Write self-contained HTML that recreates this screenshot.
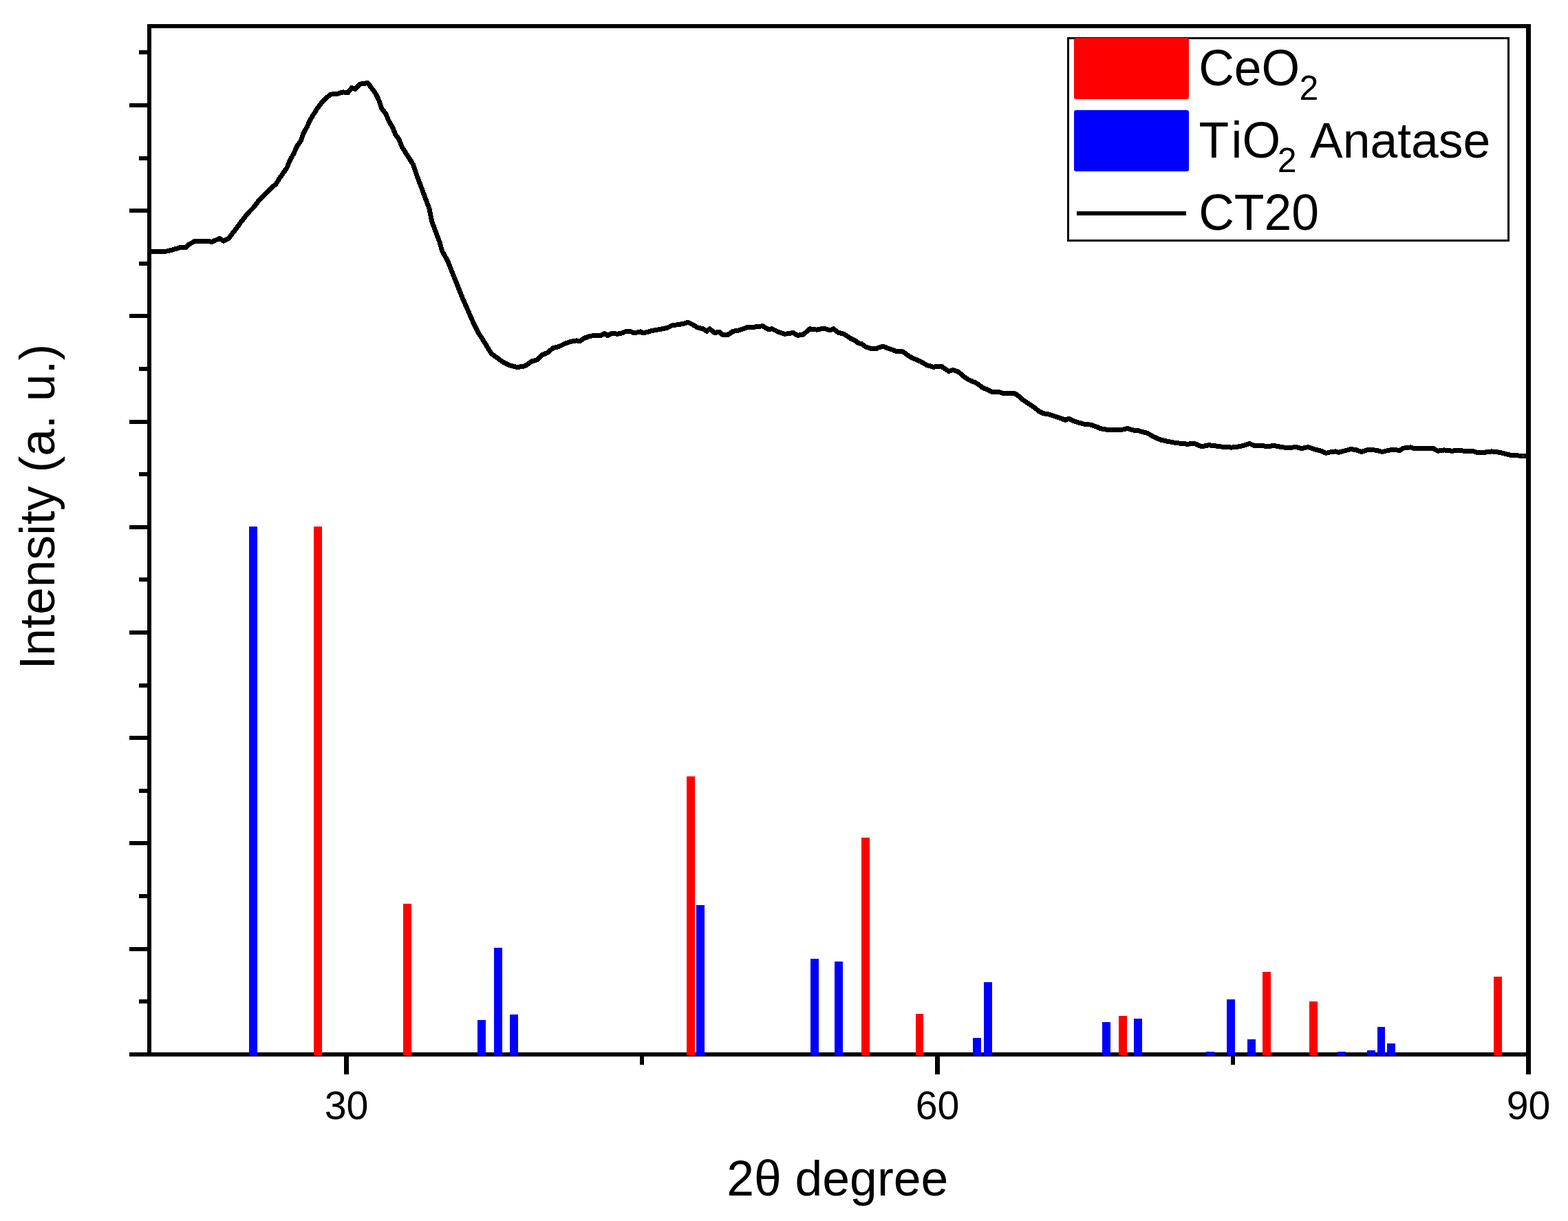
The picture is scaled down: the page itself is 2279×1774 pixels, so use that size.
<!DOCTYPE html><html><head><meta charset="utf-8"><style>
html,body{margin:0;padding:0;background:#fff;}
svg{display:block;}
text{font-family:"Liberation Sans",Arial,sans-serif;fill:#000;}
</style></head><body>
<svg width="2279" height="1774" viewBox="0 0 2279 1774">
<rect x="0" y="0" width="2279" height="1774" fill="#fff"/>
<path d="M217.0,366.0 L220.0,366.0 L237.9,365.8 L245.2,364.4 L253.5,362.1 L262.6,359.4 L270.0,359.8 L274.5,355.2 L282.8,350.7 L292.8,350.7 L302.0,350.2 L307.5,351.6 L313.9,348.8 L319.4,346.5 L324.9,350.2 L332.2,346.5 L335.9,341.5 L343.2,332.3 L350.5,322.3 L359.7,310.4 L368.8,301.2 L376.2,291.1 L384.4,282.9 L393.6,273.7 L401.1,267.3 L406.4,258.8 L411.6,251.4 L416.9,244.0 L421.2,233.4 L426.5,223.9 L431.8,212.2 L437.1,204.8 L441.3,193.2 L446.6,183.6 L450.8,174.1 L456.1,165.6 L461.4,157.2 L467.8,148.7 L474.1,142.4 L480.5,137.1 L490.0,136.5 L498.5,133.9 L505.9,134.4 L511.2,127.5 L516.5,129.6 L522.8,122.2 L530.2,121.2 L534.5,120.6 L537.6,124.4 L542.9,131.8 L547.2,138.1 L551.4,147.6 L554.6,157.2 L560.9,165.6 L565.2,176.2 L570.5,184.7 L574.7,195.3 L580.0,202.7 L584.2,213.3 L589.5,221.8 L593.8,228.5 L600.4,238.8 L606.9,257.7 L612.6,272.7 L618.2,287.8 L623.9,302.9 L627.7,321.7 L633.3,336.8 L639.0,351.8 L642.7,365.0 L650.3,378.2 L657.8,397.0 L665.3,415.9 L672.9,434.7 L680.4,451.6 L687.9,468.6 L695.5,483.7 L704.9,498.7 L714.3,513.8 L721.8,519.4 L731.2,526.0 L740.7,530.7 L752.0,533.6 L763.3,531.7 L772.7,525.1 L781.4,522.4 L788.2,515.5 L796.5,512.1 L803.4,505.9 L813.0,503.2 L821.2,499.1 L829.5,496.3 L837.7,494.9 L843.2,495.6 L848.7,491.5 L858.3,488.1 L873.4,487.4 L878.9,484.6 L883.0,487.4 L889.9,484.0 L896.8,485.3 L903.6,484.0 L909.1,481.9 L917.4,481.9 L921.5,484.0 L931.1,481.9 L935.2,484.0 L944.8,481.2 L951.7,479.8 L958.6,478.5 L969.6,476.4 L976.4,473.0 L986.0,471.6 L994.3,470.2 L999.8,468.2 L1005.3,470.9 L1013.5,475.7 L1021.8,477.8 L1027.3,481.2 L1031.4,477.8 L1038.2,483.3 L1046.5,482.6 L1049.2,486.0 L1057.5,486.7 L1065.7,481.2 L1071.4,480.5 L1078.2,478.5 L1087.9,475.0 L1097.5,475.0 L1108.5,473.7 L1116.7,478.5 L1122.2,477.8 L1130.4,481.9 L1140.1,485.3 L1146.9,484.6 L1152.4,483.3 L1159.3,487.4 L1167.5,486.0 L1177.1,477.8 L1186.8,479.1 L1197.7,477.1 L1206.0,479.8 L1211.5,477.8 L1218.4,483.3 L1226.6,485.3 L1234.8,490.8 L1243.1,494.9 L1247.2,498.4 L1252.7,499.8 L1258.2,503.9 L1266.4,506.6 L1273.3,506.6 L1282.9,503.2 L1292.5,506.6 L1303.5,510.7 L1311.8,510.7 L1322.7,518.3 L1328.2,521.0 L1337.9,525.2 L1347.5,530.7 L1357.1,533.4 L1361.4,532.0 L1368.2,532.0 L1373.7,536.1 L1379.2,539.5 L1384.7,537.5 L1393.0,540.2 L1399.8,546.4 L1408.1,551.9 L1416.3,555.3 L1421.8,558.1 L1427.3,562.9 L1434.2,565.6 L1442.4,569.8 L1450.7,569.1 L1458.9,571.8 L1467.1,571.8 L1474.0,571.1 L1479.5,574.6 L1486.4,580.7 L1494.6,586.2 L1502.9,591.7 L1509.7,597.2 L1516.6,600.7 L1524.8,602.0 L1533.1,604.8 L1541.3,607.5 L1548.2,610.3 L1553.7,608.2 L1560.5,611.6 L1568.8,614.4 L1577.0,616.5 L1585.3,617.1 L1593.5,619.9 L1599.0,622.6 L1607.3,624.0 L1615.5,624.0 L1623.7,624.0 L1632.0,624.0 L1638.8,622.6 L1648.5,625.4 L1654.0,625.4 L1658.2,626.8 L1667.9,629.5 L1677.5,635.0 L1687.1,639.1 L1696.7,641.2 L1707.7,643.3 L1718.7,644.6 L1726.9,645.3 L1735.2,644.0 L1746.2,648.8 L1757.1,646.7 L1768.1,648.1 L1779.1,649.5 L1790.1,650.1 L1801.1,648.8 L1809.3,646.7 L1816.2,644.6 L1823.1,647.4 L1834.1,647.4 L1842.3,648.8 L1851.9,647.4 L1861.5,649.5 L1872.5,650.8 L1883.5,649.5 L1891.8,651.5 L1901.4,649.5 L1911.0,652.9 L1919.2,654.9 L1927.5,658.4 L1935.7,656.3 L1941.3,655.9 L1945.3,657.2 L1953.3,655.2 L1963.9,652.5 L1971.9,653.9 L1978.5,656.5 L1986.5,653.9 L1993.1,653.2 L2001.1,654.5 L2009.0,656.5 L2017.0,654.5 L2025.0,653.2 L2034.3,654.5 L2039.6,651.2 L2050.2,649.9 L2056.8,651.9 L2066.1,651.2 L2075.4,651.9 L2082.1,651.2 L2090.0,655.2 L2099.3,653.9 L2110.0,655.2 L2119.3,654.5 L2128.6,655.2 L2139.2,655.2 L2148.5,657.8 L2157.8,657.2 L2168.4,655.9 L2179.0,657.2 L2187.0,659.2 L2195.0,661.2 L2204.2,661.8 L2213.5,662.5 L2218.8,662.5" fill="none" stroke="#000" stroke-width="7" stroke-linejoin="round" stroke-linecap="butt" shape-rendering="crispEdges"/>
<g fill="#000" shape-rendering="crispEdges">
<rect x="214" y="35" width="6" height="1500"/>
<rect x="2218" y="35" width="7" height="1526"/>
<rect x="214" y="35" width="2011" height="6"/>
<rect x="188" y="1529" width="2037" height="6"/>
<rect x="188" y="150.0" width="26" height="6"/>
<rect x="202" y="73.4" width="12" height="6"/>
<rect x="188" y="303.2" width="26" height="6"/>
<rect x="202" y="226.6" width="12" height="6"/>
<rect x="188" y="456.4" width="26" height="6"/>
<rect x="202" y="379.8" width="12" height="6"/>
<rect x="188" y="609.6" width="26" height="6"/>
<rect x="202" y="533.0" width="12" height="6"/>
<rect x="188" y="762.8" width="26" height="6"/>
<rect x="202" y="686.2" width="12" height="6"/>
<rect x="188" y="916.0" width="26" height="6"/>
<rect x="202" y="839.4" width="12" height="6"/>
<rect x="188" y="1069.2" width="26" height="6"/>
<rect x="202" y="992.6" width="12" height="6"/>
<rect x="188" y="1222.4" width="26" height="6"/>
<rect x="202" y="1145.8" width="12" height="6"/>
<rect x="188" y="1375.6" width="26" height="6"/>
<rect x="202" y="1299.0" width="12" height="6"/>
<rect x="188" y="1528.8" width="26" height="6"/>
<rect x="202" y="1452.2" width="12" height="6"/>
<rect x="500.0" y="1535" width="7" height="26"/>
<rect x="1359.0" y="1535" width="7" height="26"/>
<rect x="930.0" y="1535" width="6" height="12"/>
<rect x="1789.0" y="1535" width="6" height="12"/>
</g>
<g shape-rendering="crispEdges">
<rect x="362" y="765" width="12" height="768" fill="#00f"/>
<rect x="694" y="1482" width="12" height="51" fill="#00f"/>
<rect x="718" y="1377" width="12" height="156" fill="#00f"/>
<rect x="741" y="1474" width="12" height="59" fill="#00f"/>
<rect x="1012" y="1315" width="12" height="218" fill="#00f"/>
<rect x="1178" y="1393" width="12" height="140" fill="#00f"/>
<rect x="1213" y="1397" width="12" height="136" fill="#00f"/>
<rect x="1414" y="1508" width="12" height="25" fill="#00f"/>
<rect x="1430" y="1427" width="12" height="106" fill="#00f"/>
<rect x="1602" y="1485" width="12" height="48" fill="#00f"/>
<rect x="1648" y="1480" width="12" height="53" fill="#00f"/>
<rect x="1753" y="1528" width="12" height="5" fill="#00f"/>
<rect x="1783" y="1452" width="12" height="81" fill="#00f"/>
<rect x="1813" y="1510" width="12" height="23" fill="#00f"/>
<rect x="1944" y="1528" width="12" height="5" fill="#00f"/>
<rect x="1987" y="1526" width="12" height="7" fill="#00f"/>
<rect x="2002" y="1492" width="11" height="41" fill="#00f"/>
<rect x="2016" y="1516" width="12" height="17" fill="#00f"/>
<rect x="456" y="765" width="12" height="768" fill="#f00"/>
<rect x="586" y="1313" width="12" height="220" fill="#f00"/>
<rect x="998" y="1128" width="12" height="405" fill="#f00"/>
<rect x="1252" y="1217" width="12" height="316" fill="#f00"/>
<rect x="1331" y="1473" width="11" height="60" fill="#f00"/>
<rect x="1626" y="1476" width="12" height="57" fill="#f00"/>
<rect x="1835" y="1412" width="12" height="121" fill="#f00"/>
<rect x="1903" y="1455" width="12" height="78" fill="#f00"/>
<rect x="2171" y="1419" width="12" height="114" fill="#f00"/>
</g>
<text transform="translate(503.5,1625.5)" font-size="57.3" text-anchor="middle">30</text>
<text transform="translate(1362.5,1625.5)" font-size="57.3" text-anchor="middle">60</text>
<text transform="translate(2221.5,1625.5)" font-size="57.3" text-anchor="middle">90</text>
<text transform="translate(1056.2,1737) scale(1,1.0)" font-size="71.5">2θ degree</text>
<text transform="translate(79,972.6) rotate(-90)" font-size="71.5">Intensity (a. u.)</text>
<rect x="1552.5" y="55.5" width="640" height="294" fill="none" stroke="#000" stroke-width="3"/>
<rect x="1561" y="55" width="167" height="89" rx="3" fill="#f00"/>
<rect x="1561" y="160" width="167" height="89" rx="3" fill="#00f"/>
<rect x="1565" y="307" width="159" height="6" fill="#000"/>
<text transform="translate(1742.2,124) scale(1,1.04)" font-size="71.5">CeO</text>
<text transform="translate(1888.5,145) scale(1,1.0)" font-size="50">2</text>
<text transform="translate(1742.4,229) scale(1,1.04)" font-size="71.5">T<tspan dx="3.5">iO</tspan></text>
<text transform="translate(1856.7,249.5) scale(1,1.0)" font-size="50">2</text>
<text transform="translate(1904,229) scale(1,1.0)" font-size="71.5">Anatase</text>
<text transform="translate(1742.2,334) scale(1,1.04)" font-size="71.5">CT20</text>
</svg></body></html>
